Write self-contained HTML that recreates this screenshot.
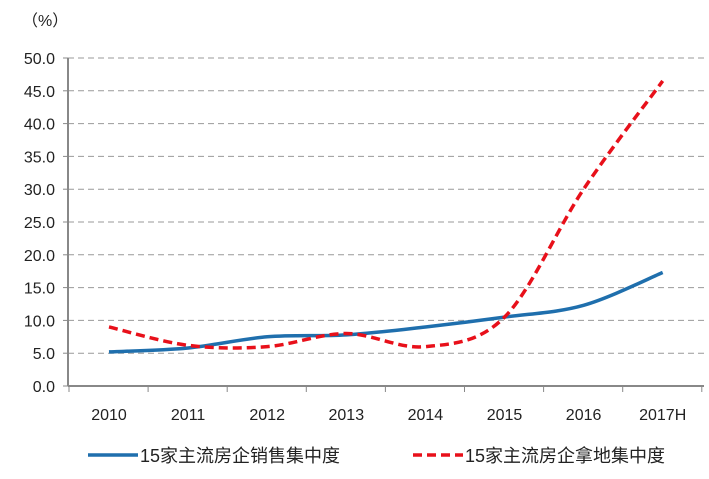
<!DOCTYPE html>
<html><head><meta charset="utf-8"><style>
body{margin:0;background:#fff;width:709px;height:474px;overflow:hidden}
text{font-family:"Liberation Sans","Noto Sans CJK SC",sans-serif;fill:#222}
</style></head><body>
<svg id="s" width="709" height="474" xmlns="http://www.w3.org/2000/svg">
<text x="22" y="26" font-size="16">（%）</text>
<g id="grid"></g>
<line x1="68" y1="58" x2="68" y2="386" stroke="#888" stroke-width="2"/>
<line x1="68" y1="386" x2="704" y2="386" stroke="#888" stroke-width="2"/>
<path id="blue" fill="none" stroke="#1f6fad" stroke-width="3.5"/>
<path id="red" fill="none" stroke="#e8101a" stroke-width="3.5" stroke-dasharray="9,5"/>
<line x1="88" y1="455" x2="138" y2="455" stroke="#1f6fad" stroke-width="3.5"/>
<text x="140" y="462" font-size="18">15家主流房企销售集中度</text>
<line x1="413" y1="455" x2="463" y2="455" stroke="#e8101a" stroke-width="3.5" stroke-dasharray="9,5"/>
<text x="465" y="462" font-size="18">15家主流房企拿地集中度</text>
</svg>
<script>
var g=document.getElementById('grid'),h='';
function Y(v){return 386-v*6.56}
for(var i=0;i<=10;i++){var y=Y(i*5);
 if(i>0)h+='<line x1="68" y1="'+y+'" x2="704" y2="'+y+'" stroke="#999" stroke-dasharray="6,4"/>';
 h+='<line x1="63" y1="'+y+'" x2="68" y2="'+y+'" stroke="#888"/>';
 h+='<text x="55" y="'+(y+6)+'" font-size="16" text-anchor="end">'+(i*5).toFixed(1)+'</text>';}
var lab=['2010','2011','2012','2013','2014','2015','2016','2017H'];
for(var i=0;i<=8;i++){var x=69+i*79.1;h+='<line x1="'+x+'" y1="386" x2="'+x+'" y2="392" stroke="#888"/>';}
for(var i=0;i<8;i++){h+='<text x="'+(109+i*79.1)+'" y="420" font-size="16" text-anchor="middle">'+lab[i]+'</text>';}
g.innerHTML=h;
function path(d){var p=d.map(function(v,i){return [109+i*79.1,Y(v)]});var s='M'+p[0][0]+','+p[0][1];
 for(var i=0;i<p.length-1;i++){var p0=p[i-1]||p[i],p1=p[i],p2=p[i+1],p3=p[i+2]||p2;
 s+=' C'+(p1[0]+(p2[0]-p0[0])/6)+','+(p1[1]+(p2[1]-p0[1])/6)+' '+(p2[0]-(p3[0]-p1[0])/6)+','+(p2[1]-(p3[1]-p1[1])/6)+' '+p2[0]+','+p2[1];}
 return s;}
document.getElementById('blue').setAttribute('d',path([5.2,5.8,7.5,7.8,9.0,10.5,12.3,17.3]));
document.getElementById('red').setAttribute('d',path([9.0,6.2,6.0,8.0,6.0,10.5,30,46.5]));
</script>
</body></html>
